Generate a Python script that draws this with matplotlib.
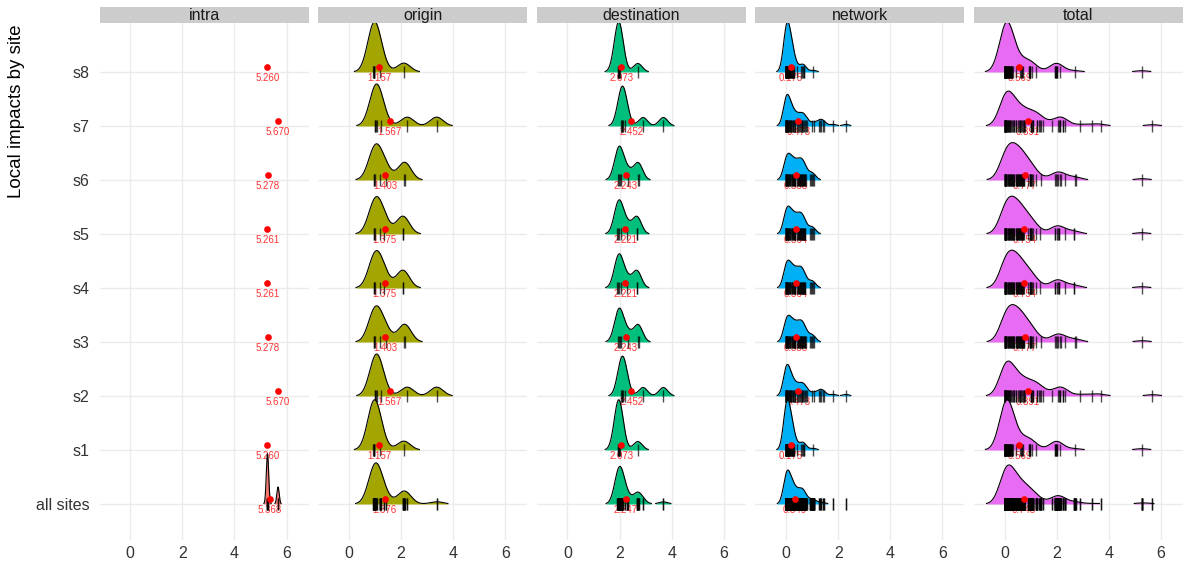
#!/usr/bin/env python3

import numpy as np
import matplotlib
matplotlib.use('Agg')
from matplotlib import pyplot as plt

plt.rcParams['font.family'] = ['Liberation Sans', 'DejaVu Sans']

# Rows, bottom to top
sites = ['all sites', 's1', 's2', 's3', 's4', 's5', 's6', 's7', 's8']
facets = ['intra', 'origin', 'destination', 'network', 'total']
fill_colors = ['#F8766D', '#A3A500', '#00BF7D', '#00B0F6', '#E76BF3']
bandwidths = [0.045, 0.25, 0.17, 0.125, 0.26]

# Intra impact: one value per site (s1..s8)
intra = [5.260, 5.670, 5.278, 5.261, 5.261, 5.278, 5.670, 5.260]

# Origin impacts, seven per site
origin_s1 = [0.94, 0.95, 0.96, 0.97, 0.98, 1.19, 2.11]
origin_s2 = [1.00, 1.02, 1.04, 1.07, 1.23, 2.24, 3.37]
origin_s3 = [0.96, 0.98, 1.00, 1.19, 1.41, 2.12, 2.16]
origin_s4 = [0.96, 0.98, 1.00, 1.19, 1.35, 2.07, 2.08]

# Destination impacts, seven per site
destination_s1 = [1.93, 1.95, 1.96, 1.97, 1.99, 2.01, 2.70]
destination_s2 = [2.04, 2.08, 2.11, 2.13, 2.22, 2.90, 3.68]
destination_s3 = [1.93, 1.96, 2.00, 2.05, 2.33, 2.70, 2.73]
destination_s4 = [1.92, 1.95, 1.99, 2.04, 2.30, 2.66, 2.68]

# Network impacts, 49 per site
network_s1 = [0.0, 0.0, 0.0, 0.0, 0.0, 0.0, 0.0, 0.0, 0.0, 0.0, 0.0, 0.0, 0.0, 0.0, 0.0, 0.0,
              0.01, 0.02, 0.03, 0.04, 0.05, 0.06, 0.07, 0.08, 0.09, 0.10, 0.11, 0.12, 0.13,
              0.14, 0.15, 0.16, 0.18, 0.20, 0.21, 0.22, 0.24, 0.25, 0.26, 0.28, 0.30, 0.32,
              0.43, 0.58, 0.62, 0.66, 0.68, 0.70, 1.05]
network_s2 = [0.0, 0.0, 0.0, 0.0, 0.0, 0.0, 0.0, 0.0, 0.0, 0.0, 0.0, 0.0,
              0.02, 0.04, 0.06, 0.08, 0.10, 0.12, 0.14, 0.16, 0.18, 0.20, 0.22, 0.25, 0.28,
              0.31, 0.34, 0.36,
              0.42, 0.45, 0.50, 0.54, 0.58, 0.60, 0.63, 0.66, 0.70, 0.73, 0.76, 0.80,
              1.00, 1.08, 1.25, 1.30, 1.35, 1.40, 1.47, 1.81, 2.30]
network_s3 = [0.0, 0.0, 0.0, 0.0, 0.0, 0.0, 0.0, 0.0,
              0.03, 0.05, 0.07, 0.09, 0.11, 0.13, 0.15, 0.17, 0.19, 0.21, 0.23, 0.25, 0.27,
              0.29, 0.31, 0.33, 0.35, 0.36,
              0.42, 0.44, 0.46, 0.48, 0.50, 0.52, 0.54, 0.56, 0.58, 0.60, 0.62, 0.64, 0.66,
              0.68, 0.70, 0.72, 0.74, 0.76,
              0.90, 0.96, 1.00, 1.04, 1.08]
network_s4 = [0.0, 0.0, 0.0, 0.0, 0.0, 0.0, 0.0, 0.0, 0.0,
              0.03, 0.05, 0.07, 0.09, 0.11, 0.13, 0.15, 0.17, 0.19, 0.21, 0.23, 0.25, 0.27,
              0.29, 0.31, 0.33, 0.35, 0.36,
              0.42, 0.44, 0.46, 0.48, 0.50, 0.52, 0.54, 0.56, 0.58, 0.60, 0.62, 0.64, 0.66,
              0.68, 0.70, 0.72, 0.74,
              0.90, 0.96, 1.00, 1.04, 1.08]

# s5..s8 mirror s4..s1 in the picture
origin = [origin_s1, origin_s2, origin_s3, origin_s4, origin_s4, origin_s3, origin_s2, origin_s1]
destination = [destination_s1, destination_s2, destination_s3, destination_s4,
               destination_s4, destination_s3, destination_s2, destination_s1]
network = [network_s1, network_s2, network_s3, network_s4,
           network_s4, network_s3, network_s2, network_s1]

# Mean labels (all sites, s1..s8)
intra_means = [5.368, 5.260, 5.670, 5.278, 5.261, 5.261, 5.278, 5.670, 5.260]
origin_means = [1.376, 1.157, 1.567, 1.403, 1.375, 1.375, 1.403, 1.567, 1.157]
destination_means = [2.247, 2.073, 2.452, 2.243, 2.221, 2.221, 2.243, 2.452, 2.073]
network_means = [0.349, 0.175, 0.473, 0.388, 0.364, 0.364, 0.388, 0.473, 0.175]
total_means = [0.748, 0.569, 0.891, 0.777, 0.754, 0.754, 0.777, 0.891, 0.569]

x_ticks = [0, 2, 4, 6]

FIG_W, FIG_H = 1183, 563
RIDGE_TOP = 0.93      # tallest ridge height in a panel, in row units
REL_MIN = 0.01        # drop ridge parts lower than this share of the tallest


def px_box(left, top, width, height):
    return [left / FIG_W, 1 - (top + height) / FIG_H, width / FIG_W, height / FIG_H]


# Gaussian kernel density over min-3bw .. max+3bw
def ridge(values, bw):
    values = np.asarray(values, dtype=float)
    grid = np.linspace(values.min() - 3 * bw, values.max() + 3 * bw, 800)
    dens = np.exp(-0.5 * ((grid[:, None] - values[None, :]) / bw) ** 2).sum(axis=1)
    dens /= len(values) * bw * np.sqrt(2 * np.pi)
    return grid, dens


# Split a curve into the runs where keep is True
def runs(keep):
    idx = np.flatnonzero(keep)
    if len(idx) == 0:
        return []
    breaks = np.flatnonzero(np.diff(idx) > 1)
    starts = np.r_[idx[0], idx[breaks + 1]]
    ends = np.r_[idx[breaks], idx[-1]]
    return list(zip(starts, ends + 1))


def build_rows():
    per_site = {
        'intra': [[v] for v in intra],
        'origin': origin,
        'destination': destination,
        'network': network,
    }
    per_site['total'] = [per_site['intra'][i] + origin[i] + destination[i] + network[i]
                         for i in range(8)]
    rows = {}
    for f in facets:
        pooled = [v for site in per_site[f] for v in site]
        rows[f] = [pooled] + list(per_site[f])
    return rows


def main():
    rows = build_rows()
    means = dict(zip(facets, [intra_means, origin_means, destination_means,
                              network_means, total_means]))

    fig = plt.figure(figsize=(FIG_W / 100, FIG_H / 100), dpi=100)
    ys = np.arange(1, len(sites) + 1)

    for k, f in enumerate(facets):
        left = 99.5 + k * 218.6
        ax = fig.add_axes(px_box(left, 23, 209, 517))
        ax.set_xlim(-1.18, 6.84)
        ax.set_ylim(0.333, 9.907)
        for s in ax.spines.values():
            s.set_visible(False)
        ax.set_axisbelow(True)
        ax.grid(color='#EBEBEB', lw=1.0)
        ax.set_xticks(x_ticks)
        ax.set_yticks(ys)
        ax.tick_params(length=0, labelsize=11.5, labelcolor='#333333')
        ax.tick_params(axis='x', pad=4.5)
        if k == 0:
            ax.set_yticklabels(sites)
            ax.tick_params(axis='y', pad=7)
        else:
            ax.set_yticklabels([])

        # density ridges, scaled per panel
        curves = {}
        for i, vals in enumerate(rows[f]):
            if len(vals) > 1:
                curves[i] = ridge(vals, bandwidths[k])
        top = max(d.max() for _, d in curves.values())
        scale = RIDGE_TOP / top

        for i in range(len(sites) - 1, -1, -1):
            y = ys[i]
            z = 2 + (len(sites) - i) * 0.1
            if i in curves:
                g, d = curves[i]
                h = d * scale
                for a, b in runs(h >= REL_MIN * RIDGE_TOP):
                    ax.fill_between(g[a:b], y, y + h[a:b], color=fill_colors[k], lw=0, zorder=z)
                    ax.plot(g[a:b], y + h[a:b], color='black', lw=0.8, zorder=z + 0.01)
                vals = rows[f][i]
                ax.plot(vals, [y] * len(vals), '|', color='black', alpha=0.7,
                        ms=8.2, mew=1.0, zorder=z + 0.02)
            m = means[f][i]
            ax.text(m, y - 0.11, '%.3f' % m, color='#FF3333', fontsize=7,
                    ha='center', va='center', zorder=1.5)
            ax.plot([m], [y + 0.1], 'o', color='red', ms=4.8, mew=0, zorder=10)

        # facet strip
        sax = fig.add_axes(px_box(left, 7, 209, 16))
        sax.set_facecolor('#CCCCCC')
        sax.set_xticks([])
        sax.set_yticks([])
        for s in sax.spines.values():
            s.set_visible(False)
        sax.text(0.5, 0.45, f, ha='center', va='center', fontsize=11.5,
                 color='#1A1A1A', transform=sax.transAxes)

    fig.text(17 / FIG_W, 1 - 24 / FIG_H, 'Local impacts by site', rotation=90,
             ha='center', va='top', fontsize=13.5)

    fig.savefig('out.png', dpi=100)


if __name__ == '__main__':
    main()
